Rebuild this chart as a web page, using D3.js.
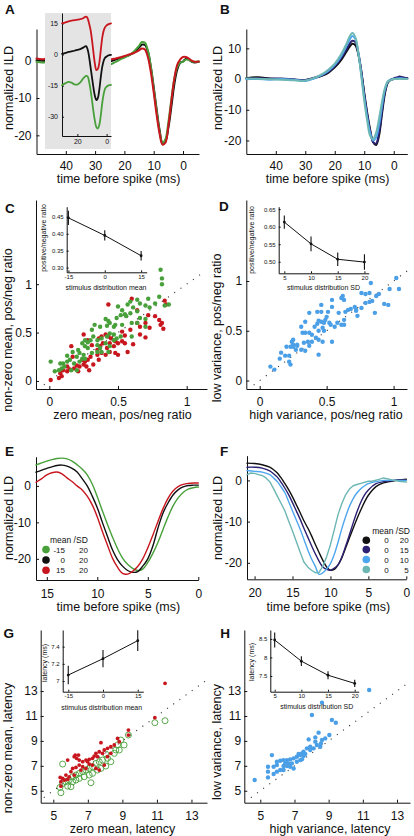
<!DOCTYPE html>
<html><head><meta charset="utf-8">
<script src="https://cdn.jsdelivr.net/npm/d3@7"></script>
<style>body{margin:0;background:#fff}svg{display:block}</style>
</head><body><svg id="c" width="414" height="836"></svg>
<script>
// ================= DATA =================
// Panel A (main STA, time before spike in ms)
const tA = [50,48,46,44,42,40,36,32,28,25,23,21,19,17,15,14,13,12,11,10,9,8,7,6,5,4,3,2,1,0,-1,-2,-3,-4,-5.4];
const aBlack = [0.1,0,-0.2,0,0.2,0.3,0.2,0.4,0.3,-0.2,0.3,0.8,1.3,2.0,3.5,4.3,4.2,2.5,-1.5,-7,-13,-18.5,-22,-21.5,-18,-12.5,-6.5,-2.5,-0.6,-0.2,0.5,0.3,-0.3,-0.5,-0.3];
const aGreen = [-0.3,-0.5,-0.2,0,0.1,0.2,0,0.2,0,-1.0,-0.3,0.5,1.2,2.3,4.0,5.0,4.8,2.8,-1.5,-7.5,-13.5,-19,-22,-21,-16.5,-10.5,-5,-1.8,-0.5,-0.3,0.3,0.2,-0.2,-0.3,-0.2];
const aRed = [0.6,0.4,0.7,0.5,0.4,0.5,0.3,0.5,0.4,0.3,0.6,1.0,1.5,2.0,2.8,3.3,3.0,1.0,-3,-8.5,-14.5,-19.5,-22.5,-22,-17.5,-11,-5,-1.2,0.3,1.0,1.0,0.6,0,-0.3,-0.2];
// Panel A inset (offset traces)
const tI = [30.5,28,26,24,22,20,18,16,15,14,13,12,11,10,9,8,7,6,5,4,3,2,1,0,-1,-2,-3];
const iBlack = [0.3,0.8,1.2,1.5,1.8,2.2,2.6,3.3,3.8,4.0,2.5,-1,-6,-11,-16,-20,-22,-21,-17,-11,-6,-3,-1.5,-1,-0.5,-0.3,-0.2];
const iRed = [15,15.5,16,16.3,16.6,16.8,17,17.5,18,18.2,17.5,15,12,7,1,-4.5,-7.5,-7,-4,2,8,11.5,13.2,14,14.5,14.8,15];
const iGreen = [-14.8,-13.8,-13.2,-13.6,-14.4,-14.5,-13.5,-11.5,-10.8,-10.3,-10.5,-13,-17,-22,-27.5,-32,-35,-35.7,-34,-29.5,-23.5,-19,-16.5,-15.5,-15,-14.8,-14.7];
// Panel B
const tB = [50,46,42,38,34,30,27,24,22,20,18,16,15,14,13,12,11,10,9,8,7,6,5,4,3,2,1,0,-1,-2,-3,-4.6];
const bBlack = [0.3,0.6,0.2,0,-0.2,-0.4,0.3,1.2,2.2,3.8,6,9,10.5,11.5,11,8,2.5,-4.5,-11,-16.5,-20.5,-21.5,-18.5,-11.5,-4.8,-1.2,-0.3,0,0.2,0.5,0.4,0.2];
const bNavy = [0.2,0.3,0.1,0.2,-0.1,-0.3,0.4,1.4,2.5,4.2,6.6,9.8,11.5,12.5,12,8.5,2.5,-5,-11.5,-17,-20.5,-21,-17.5,-10.5,-4.2,-1,-0.2,0.2,0.5,0.8,0.6,0.3];
const bBlue = [0,0,-0.2,0,-0.2,-0.6,0.2,1.5,2.8,4.6,7.2,10.8,12.7,14,13,8.5,1.5,-6,-12.5,-17.5,-20,-19,-15,-9,-3.5,-0.8,-0.2,0,0.2,0.3,0.2,0];
const bTeal = [0.2,0.1,-0.1,-0.2,-0.4,-0.5,0.4,1.8,3.2,5,7.8,11.5,13.8,15,13.5,8.5,1,-7,-13.5,-18.5,-19.5,-17.5,-13,-7.5,-3,-0.8,-0.3,0,0,0.1,0,0];
// Panel C scatter (zero mean vs non-zero mean pos/neg ratio)
const cGreen = [[0.80,0.87],[0.72,0.85],[0.64,0.84],[0.59,0.82],[0.66,0.80],[0.70,0.78],[0.73,0.76],[0.77,0.80],[0.84,0.78],[0.87,0.79],[0.50,0.77],[0.57,0.79],[0.53,0.73],[0.61,0.76],[0.64,0.72],[0.55,0.69],[0.52,0.68],[0.59,0.70],[0.56,0.67],[0.66,0.65],[0.70,0.64],[0.41,0.64],[0.43,0.62],[0.44,0.60],[0.48,0.58],[0.42,0.57],[0.47,0.56],[0.33,0.58],[0.37,0.56],[0.31,0.53],[0.49,0.65],[0.53,0.58],[0.60,0.60],[0.64,0.60],[0.70,0.56],[0.60,0.46],[0.44,0.49],[0.47,0.48],[0.42,0.46],[0.38,0.44],[0.35,0.42],[0.32,0.46],[0.30,0.42],[0.26,0.42],[0.24,0.39],[0.28,0.40],[0.26,0.36],[0.28,0.34],[0.35,0.37],[0.37,0.34],[0.41,0.39],[0.44,0.36],[0.47,0.42],[0.49,0.44],[0.52,0.46],[0.21,0.32],[0.22,0.29],[0.25,0.27],[0.20,0.25],[0.17,0.30],[0.13,0.26],[0.15,0.22],[0.13,0.20],[0.10,0.18],[0.08,0.18],[0.01,0.20],[0.04,0.10],[0.07,0.11],[0.09,0.13],[0.11,0.15],[0.18,0.18],[0.22,0.20],[0.24,0.23],[0.26,0.23],[0.31,0.29],[0.35,0.30],[0.38,0.30],[0.43,0.30],[0.20,0.11],[0.16,0.11],[0.81,1.15],[0.82,1.06],[0.82,1.00]];
const cRed = [[0.60,0.85],[0.84,0.83],[0.85,0.79],[0.43,0.79],[0.64,0.73],[0.72,0.68],[0.77,0.67],[0.80,0.63],[0.82,0.60],[0.83,0.54],[0.81,0.58],[0.70,0.60],[0.73,0.55],[0.66,0.56],[0.64,0.60],[0.53,0.51],[0.59,0.53],[0.55,0.47],[0.66,0.48],[0.70,0.45],[0.61,0.38],[0.57,0.30],[0.55,0.39],[0.53,0.41],[0.50,0.39],[0.48,0.41],[0.45,0.44],[0.43,0.46],[0.41,0.48],[0.38,0.46],[0.36,0.44],[0.25,0.48],[0.28,0.42],[0.31,0.37],[0.35,0.32],[0.37,0.36],[0.39,0.39],[0.44,0.39],[0.47,0.36],[0.42,0.34],[0.38,0.29],[0.36,0.22],[0.30,0.25],[0.28,0.22],[0.26,0.20],[0.24,0.22],[0.25,0.17],[0.22,0.15],[0.21,0.10],[0.18,0.13],[0.16,0.36],[0.17,0.25],[0.13,0.15],[0.10,0.11],[0.08,0.08],[0.09,0.05],[0.07,0.03],[0.01,0.01],[0.13,0.10],[0.15,0.12],[0.20,0.16],[0.27,0.15],[0.29,0.11],[0.32,0.17],[0.50,0.27],[0.48,0.29],[0.44,0.30],[0.41,0.27],[0.35,0.27]];
const cMean = [-15,0,15], cRatio = [0.447,0.395,0.335], cErr = [0.021,0.015,0.014];
// Panel D scatter
const dBlue = [[1.02,1.03],[1.04,0.92],[0.97,0.92],[0.83,0.98],[0.82,0.88],[0.79,0.87],[0.76,0.88],[0.87,0.85],[0.89,0.87],[0.84,0.80],[0.82,0.79],[0.79,0.78],[0.96,0.76],[0.93,0.77],[0.86,0.68],[0.76,0.73],[0.72,0.71],[0.71,0.74],[0.68,0.72],[0.66,0.71],[0.64,0.69],[0.73,0.65],[0.72,0.70],[0.62,0.85],[0.63,0.81],[0.61,0.83],[0.54,0.81],[0.54,0.74],[0.46,0.76],[0.43,0.69],[0.46,0.69],[0.51,0.69],[0.50,0.64],[0.49,0.61],[0.52,0.58],[0.53,0.56],[0.56,0.54],[0.58,0.58],[0.59,0.68],[0.63,0.61],[0.63,0.56],[0.61,0.56],[0.48,0.58],[0.46,0.59],[0.44,0.60],[0.43,0.57],[0.47,0.53],[0.48,0.50],[0.44,0.50],[0.41,0.54],[0.37,0.68],[0.34,0.59],[0.31,0.54],[0.32,0.48],[0.34,0.48],[0.37,0.48],[0.39,0.46],[0.42,0.43],[0.44,0.41],[0.47,0.39],[0.39,0.39],[0.36,0.39],[0.33,0.38],[0.37,0.35],[0.34,0.30],[0.31,0.31],[0.28,0.35],[0.25,0.41],[0.24,0.39],[0.25,0.36],[0.28,0.36],[0.27,0.31],[0.25,0.34],[0.23,0.34],[0.20,0.34],[0.16,0.28],[0.15,0.22],[0.19,0.25],[0.22,0.25],[0.22,0.19],[0.23,0.16],[0.08,0.14],[0.11,0.11],[0.44,0.26],[0.54,0.39]];
const dSD = [5,10,15,20], dRatio = [0.613,0.551,0.507,0.499], dErr = [0.019,0.021,0.019,0.022];
// Panel E (mean -15 / 0 / +15, SD 20)
const tE = [16.07,15.5,15,14.5,14,13.5,13,12.5,12,11.5,11,10.5,10,9.5,9,8.5,8,7.5,7,6.5,6,5.5,5,4.5,4,3.5,3,2.5,2,1.5,1,0.5,0];
const eGreen = [5.75,6.3,6.8,7.2,7.5,7.6,7.4,6.8,5.8,4.6,3.0,0.5,-3,-6.8,-10.5,-14,-17.2,-19.8,-21.5,-22.6,-23.2,-22.8,-21,-18.5,-15.5,-12,-8.5,-5.5,-3.3,-1.8,-0.9,-0.5,-0.3];
const eBlack = [3.75,4.3,4.8,5.2,5.6,5.7,5.4,4.8,3.8,2.0,0,-2.8,-6,-10,-13.8,-17.5,-20.2,-22,-23.2,-23.7,-23.5,-22,-20,-16.5,-11.6,-7.5,-4.7,-2.5,-1.1,-0.3,0.1,0.2,0.2];
const eRed = [1.0,2.0,3.0,3.6,3.8,3.3,2.2,1.2,0,-1.1,-2.8,-5.2,-8.5,-12.5,-16.2,-19.8,-22.3,-24,-24.2,-23.4,-22.1,-20,-17,-13.5,-9.8,-6.3,-3.4,-1.4,-0.2,0.4,0.7,0.8,0.8];
const eLegMean = ["-15","0","15"], eLegSD = ["20","20","20"];
// Panel F (mean 0, SD 20 / 15 / 10 / 5)
const tF = [21,20,19,18,17.5,17,16.5,16,15.5,15,14.5,14,13.5,13,12.5,12,11.5,11,10.5,10,9.5,9,8.5,8,7.5,7,6.5,6,5.5,5,4,3,2,1,0];
const fBlack = [4.2,4.1,3.8,3.2,2.6,1.8,0.6,-0.8,-2.3,-4.0,-5.9,-7.8,-9.8,-11.5,-13.4,-15.5,-17.5,-19.4,-21,-21.8,-21.6,-20.5,-18.8,-16.4,-14,-11.6,-9.3,-7.2,-5.2,-3.6,-1.5,-0.6,-0.2,0.1,0.3];
const fNavy = [3.2,3.2,3.0,2.3,1.6,0.8,-0.5,-1.9,-3.5,-5.4,-7.4,-9.4,-11.6,-13.7,-15.8,-17.8,-19.6,-21,-21.6,-21.8,-21.3,-20.5,-18.6,-16,-13.2,-10.3,-7.6,-5.3,-3.5,-2.3,-0.8,-0.3,-0.1,0.1,0.1];
const fBlue = [2.4,2.2,2.0,1.4,0.6,-0.3,-1.6,-3.0,-5.2,-7.4,-9.6,-11.8,-14.3,-16.8,-19,-20.8,-22.8,-22.4,-21.5,-20.2,-18,-15,-11.7,-8.8,-6.3,-4.4,-3.0,-2.0,-1.3,-0.8,-0.3,0,0,0,0];
const tFt = [21,20.5,20,19.5,19,18.5,18,17.5,17,16.5,16,15.5,15,14.5,14,13.5,13,12.5,12,11.5,11,10.5,10,9.5,9,8.5,8,7.5,7,6.5,6,5,4.5,3.5,3,2,1,0];
const fTeal = [1.4,1.8,1.7,1.4,1.2,0.6,-0.3,-2.0,-3.8,-5.6,-7.4,-9.9,-12.3,-14.8,-17.4,-19.8,-21,-21.8,-22.4,-22.3,-20.8,-18.5,-15.6,-12,-8.3,-5.6,-3.5,-2.1,-1.3,-1.0,-0.7,-0.2,-0.2,0.3,0.6,0.2,-0.2,-0.4];
const fLegMean = ["0","0","0","0"], fLegSD = ["20","15","10","5"];
// Panel G scatter (latency)
const gRed = [[11.47,13.62],[10.88,10.86],[9.35,9.87],[9.35,9.47],[8.72,9.20],[8.82,8.94],[8.53,8.67],[8.33,8.53],[8.14,8.40],[7.95,8.27],[7.85,8.00],[7.66,8.13],[7.76,8.86],[7.47,8.00],[7.37,7.78],[7.56,7.73],[7.27,7.60],[7.08,7.52],[6.98,7.33],[6.89,7.46],[6.70,7.33],[6.50,7.46],[6.35,7.60],[6.21,7.73],[6.46,7.86],[6.27,7.86],[5.83,7.46],[6.50,7.06],[6.70,6.93],[6.31,6.87],[6.12,6.79],[6.02,6.53],[5.73,6.26],[5.54,5.99],[5.44,5.72],[5.40,6.07],[5.64,5.86],[5.83,5.91],[7.08,7.14],[7.27,7.06],[7.47,6.79],[7.66,6.66],[7.95,7.06],[8.14,7.73],[8.33,8.00],[6.89,6.79],[6.60,6.66],[6.21,6.26],[5.92,6.12],[5.44,5.37]];
const gGreen = [[11.47,10.62],[10.88,10.46],[9.35,9.47],[8.91,9.07],[8.72,8.67],[8.62,8.27],[8.53,8.00],[8.14,7.60],[8.04,7.94],[7.85,7.46],[7.66,7.33],[7.47,7.20],[7.27,6.93],[7.08,6.79],[6.89,6.66],[6.70,6.53],[6.50,6.39],[6.31,6.26],[6.12,6.12],[5.92,5.86],[5.73,5.72],[5.54,5.59],[5.39,5.27],[5.44,4.84],[5.54,7.14],[7.18,5.64],[6.50,5.99],[6.79,6.12],[7.08,6.26],[7.27,6.39],[7.56,6.66],[7.76,6.79],[8.04,6.98],[8.33,7.33],[6.02,5.32],[5.83,5.37],[6.12,5.72],[6.31,5.86],[8.82,8.27],[9.10,8.67]];
const gMean = [-15,0,15], gLat = [7.07,7.26,7.47], gErr = [0.107,0.10,0.12];
// Panel H scatter
const hBlue = [[11.37,13.09],[8.61,12.07],[8.02,11.08],[9.19,10.68],[9.42,10.46],[9.04,9.47],[8.41,9.66],[8.22,9.28],[7.83,9.12],[8.61,9.07],[8.80,9.20],[8.55,8.80],[8.22,8.94],[7.92,8.53],[8.12,8.40],[8.31,8.67],[8.51,8.53],[7.73,8.40],[7.92,8.27],[7.53,8.13],[7.44,8.00],[7.63,7.95],[7.34,7.86],[7.14,7.73],[7.24,7.95],[6.95,7.60],[6.75,7.52],[6.56,7.46],[6.36,7.46],[6.17,7.41],[5.97,7.33],[5.68,7.86],[6.46,7.20],[6.66,7.20],[6.85,7.20],[7.14,7.33],[7.34,7.46],[6.36,6.98],[6.56,6.98],[6.75,6.93],[5.97,7.06],[5.78,6.93],[6.17,6.66],[6.36,6.66],[5.97,6.53],[5.78,6.34],[5.45,6.93],[5.45,6.53],[5.45,6.07],[4.67,5.86],[6.95,6.79],[7.44,7.52],[7.53,7.79]];
const hSD = [5,10,15,20], hLat = [8.47,7.90,7.52,7.30], hErr = [0.2,0.13,0.11,0.1];

// ================= STYLE =================
const LS = '"Liberation Sans", Arial, Helvetica, sans-serif';
const GREEN = "#48a03a", RED = "#c8161e", BLUE = "#4b9fe6", NAVY = "#2b2072", SKY = "#4ea6ee", TEAL = "#6cb6b3";
const svg = d3.select("#c");

function drawAxes(x, y, o) {
  const fs = o.fs || 12, tk = o.tk == null ? 3 : o.tk;
  const gx = svg.append("g").attr("transform", `translate(0,${y.range()[0]})`)
    .call(d3.axisBottom(x).tickValues(o.xt).tickFormat(o.xf || (d => String(d))).tickSizeInner(-tk).tickSizeOuter(0).tickPadding(o.xpad));
  const gy = svg.append("g").attr("transform", `translate(${x.range()[0]},0)`)
    .call(d3.axisLeft(y).tickValues(o.yt).tickFormat(o.yf || (d => String(d))).tickSizeInner(-tk).tickSizeOuter(0).tickPadding(o.ypad));
  for (const a of [gx, gy]) {
    a.attr("font-family", LS).attr("font-size", fs);
    a.select(".domain").attr("stroke", "#111").attr("stroke-width", o.sw || 1);
    a.selectAll(".tick line").attr("stroke", "#111");
    a.selectAll(".tick text").attr("fill", "#111");
  }
}
function txt(x, y, s, fs, anchor, weight) {
  return svg.append("text").attr("x", x).attr("y", y).text(s).attr("font-family", LS)
    .attr("font-size", fs).attr("text-anchor", anchor || "middle").attr("font-weight", weight || null).attr("fill", "#111");
}
function vtxt(x, y, s, fs) {
  return svg.append("text").attr("transform", `translate(${x},${y}) rotate(-90)`).attr("text-anchor", "middle")
    .attr("font-family", LS).attr("font-size", fs).attr("fill", "#111").text(s);
}
function curve(x, y, ts, vs, color, w, cv) {
  svg.append("path").datum(d3.zip(ts, vs)).attr("fill", "none").attr("stroke", color).attr("stroke-width", w)
    .attr("stroke-linejoin", "round").attr("stroke-linecap", "round")
    .attr("d", d3.line().x(d => x(d[0])).y(d => y(d[1])).curve(cv || d3.curveCatmullRom));
}
function diag(x, y, a, b) {
  svg.append("line").attr("x1", x(a)).attr("y1", y(a)).attr("x2", x(b)).attr("y2", y(b))
    .attr("stroke", "#333").attr("stroke-width", 1.1).attr("stroke-dasharray", "1.1,6.5");
}
function dots(x, y, data, color, r) {
  svg.append("g").selectAll("circle").data(data).join("circle")
    .attr("cx", d => x(d[0])).attr("cy", d => y(d[1])).attr("r", r).attr("fill", color);
}
function rings(x, y, data, color, r) {
  svg.append("g").selectAll("circle").data(data).join("circle")
    .attr("cx", d => x(d[0])).attr("cy", d => y(d[1])).attr("r", r).attr("fill", "none").attr("stroke", color).attr("stroke-width", 0.9);
}
function inset(x, y, xs, ms, es) {
  svg.append("path").datum(d3.zip(xs, ms)).attr("fill", "none").attr("stroke", "#111").attr("stroke-width", 1)
    .attr("d", d3.line().x(d => x(d[0])).y(d => y(d[1])));
  xs.forEach((v, i) => {
    svg.append("line").attr("x1", x(v)).attr("x2", x(v)).attr("y1", y(ms[i] - es[i])).attr("y2", y(ms[i] + es[i]))
      .attr("stroke", "#111").attr("stroke-width", 1.1);
    svg.append("circle").attr("cx", x(v)).attr("cy", y(ms[i])).attr("r", 1.4).attr("fill", "#111");
  });
}
function legend(cx, cys, colors, c1x, c1, c2x, c2, fs) {
  cys.forEach((cy, i) => {
    svg.append("circle").attr("cx", cx).attr("cy", cy).attr("r", 3.8).attr("fill", colors[i]);
    txt(c1x, cy + 3, c1[i], fs, "end");
    txt(c2x, cy + 3, c2[i], fs, "end");
  });
}

// ================= PANEL A =================
{
  const x = d3.scaleLinear().domain([50, -5.46]).range([36.5, 199]);
  const y = d3.scaleLinear().domain([-25, 8.5]).range([154, 29]);
  drawAxes(x, y, {xt: [40, 30, 20, 10, 0], yt: [0, -10, -20], xpad: 7, ypad: 5});
  curve(x, y, tA, aBlack, "#111", 2);
  curve(x, y, tA, aGreen, GREEN, 2);
  curve(x, y, tA, aRed, RED, 2);
  svg.append("rect").attr("x", 45).attr("y", 13).attr("width", 66).attr("height", 136).attr("fill", "#e4e4e4");
  const xi = d3.scaleLinear().domain([30.5, -3]).range([62, 111]);
  const yi = d3.scaleLinear().domain([-39.3, 20]).range([136, 13]);
  drawAxes(xi, yi, {xt: [20, 0], yt: [15, 0, -15, -30], xpad: 3, ypad: 4, fs: 7, tk: 2});
  curve(xi, yi, tI, iRed, RED, 1.8);
  curve(xi, yi, tI, iBlack, "#111", 1.8);
  curve(xi, yi, tI, iGreen, GREEN, 1.8);
  vtxt(12.5, 88, "normalized ILD", 12.5);
  txt(118.5, 183, "time before spike (ms)", 12.5);
  txt(5, 14, "A", 13.5, "start", "bold");
}
// ================= PANEL B =================
{
  const x = d3.scaleLinear().domain([50, -4.6]).range([246.3, 407.3]);
  const y = d3.scaleLinear().domain([-24.4, 16.3]).range([154, 29]);
  drawAxes(x, y, {xt: [40, 30, 20, 10, 0], yt: [10, 0, -10, -20], xpad: 7, ypad: 5});
  curve(x, y, tB, bBlack, "#111", 2);
  curve(x, y, tB, bNavy, NAVY, 2);
  curve(x, y, tB, bBlue, SKY, 2);
  curve(x, y, tB, bTeal, TEAL, 2);
  vtxt(222, 88, "normalized ILD", 12.5);
  txt(327.5, 183, "time before spike (ms)", 12.5);
  txt(220, 14, "B", 13.5, "start", "bold");
}
// ================= PANEL C =================
{
  const x = d3.scaleLinear().domain([-0.097, 1.148]).range([36, 207]);
  const y = d3.scaleLinear().domain([-0.083, 1.87]).range([389, 200]);
  drawAxes(x, y, {xt: [0, 0.5, 1], yt: [0, 0.5, 1], xpad: 8.5, ypad: 4});
  diag(x, y, -0.04, 1.12);
  dots(x, y, cRed, RED, 2.2);
  dots(x, y, cGreen, GREEN, 2.2);
  const xi = d3.scaleLinear().domain([-15.7, 17.3]).range([66.7, 146.7]);
  const yi = d3.scaleLinear().domain([0.286, 0.48]).range([272.3, 206.7]);
  drawAxes(xi, yi, {xt: [-15, 0, 15], yt: [0.30, 0.35, 0.40, 0.45], yf: d3.format(".2f"), xpad: 2, ypad: 3, fs: 6, tk: 2});
  inset(xi, yi, cMean, cRatio, cErr);
  vtxt(45.5, 238, "positive/negative ratio", 7);
  txt(106, 290, "stimulus distribution mean", 7);
  vtxt(11.5, 330, "non-zero mean, pos/neg ratio", 12.5);
  txt(122.5, 419, "zero mean, pos/neg ratio", 12.5);
  txt(5, 213, "C", 13.5, "start", "bold");
}
// ================= PANEL D =================
{
  const x = d3.scaleLinear().domain([-0.1, 1.1]).range([246.3, 407]);
  const y = d3.scaleLinear().domain([-0.085, 1.814]).range([389, 200]);
  drawAxes(x, y, {xt: [0, 0.5, 1], yt: [0, 0.5, 1], xpad: 8.5, ypad: 4});
  diag(x, y, -0.045, 1.12);
  dots(x, y, dBlue, BLUE, 2.2);
  const xi = d3.scaleLinear().domain([3.95, 20.8]).range([278.7, 368.7]);
  const yi = d3.scaleLinear().domain([0.467, 0.657]).range([273.3, 206.7]);
  drawAxes(xi, yi, {xt: [5, 10, 15, 20], yt: [0.50, 0.55, 0.60, 0.65], yf: d3.format(".2f"), xpad: 2, ypad: 3, fs: 6, tk: 2});
  inset(xi, yi, dSD, dRatio, dErr);
  vtxt(253.5, 240, "positive/negative ratio", 7);
  txt(323.5, 290, "stimulus distribution SD", 7);
  vtxt(220.5, 328, "low variance, pos/neg ratio", 12.5);
  txt(326, 419, "high variance, pos/neg ratio", 12.5);
  txt(219, 211, "D", 13.5, "start", "bold");
}
// ================= PANEL E =================
{
  const x = d3.scaleLinear().domain([16.07, 0]).range([36, 198.3]);
  const y = d3.scaleLinear().domain([-25.8, 8]).range([580, 456.7]);
  drawAxes(x, y, {xt: [15, 10, 5, 0], yt: [0, -10, -20], xpad: 9.5, ypad: 5});
  curve(x, y, tE, eGreen, GREEN, 1.4);
  curve(x, y, tE, eBlack, "#111", 1.4);
  curve(x, y, tE, eRed, RED, 1.4);
  txt(50, 543, "mean /SD", 8.5, "start");
  legend(46, [549.6, 560, 570.3], [GREEN, "#111", RED], 65, eLegMean, 88, eLegSD, 8);
  vtxt(12.5, 518, "normalized ILD", 12.5);
  txt(118.3, 611, "time before spike (ms)", 12.5);
  txt(5, 455.5, "E", 13.5, "start", "bold");
}
// ================= PANEL F =================
{
  const x = d3.scaleLinear().domain([21, 0]).range([247, 406.3]);
  const y = d3.scaleLinear().domain([-24, 6]).range([579.3, 455.7]);
  drawAxes(x, y, {xt: [20, 15, 10, 5, 0], yt: [0, -10, -20], xpad: 9, ypad: 5});
  curve(x, y, tF, fBlack, "#111", 1.4);
  curve(x, y, tF, fNavy, NAVY, 1.4);
  curve(x, y, tF, fBlue, SKY, 1.4);
  curve(x, y, tFt, fTeal, TEAL, 1.4, d3.curveLinear);
  txt(410, 533.5, "mean /SD", 8.5, "end");
  legend(366.3, [540.3, 549.6, 559.5, 569.5], ["#111", NAVY, SKY, TEAL], 388.7, fLegMean, 408.7, fLegSD, 8);
  vtxt(222, 518, "normalized ILD", 12.5);
  txt(328.3, 611, "time before spike (ms)", 12.5);
  txt(220, 455.5, "F", 13.5, "start", "bold");
}
// ================= PANEL G =================
{
  const x = d3.scaleLinear().domain([4.27, 13.9]).range([40.7, 207]);
  const y = d3.scaleLinear().domain([4.04, 17.9]).range([802.7, 630]);
  drawAxes(x, y, {xt: [5, 7, 9, 11, 13], yt: [5, 7, 9, 11, 13], xpad: 8.5, ypad: 3});
  diag(x, y, 4.45, 13.9);
  rings(x, y, gGreen, GREEN, 3);
  dots(x, y, gRed, RED, 1.9);
  const xi = d3.scaleLinear().domain([-17.4, 17.4]).range([62.7, 143.3]);
  const yi = d3.scaleLinear().domain([6.876, 7.594]).range([691.7, 630]);
  drawAxes(xi, yi, {xt: [-15, 0, 15], yt: [7, 7.2, 7.4], xpad: 2, ypad: 3, fs: 6, tk: 2});
  inset(xi, yi, gMean, gLat, gErr);
  vtxt(47, 663, "latency (ms)", 7);
  txt(101.7, 709.5, "stimulus distribution mean", 7);
  vtxt(11.5, 748, "non-zero mean, latency", 12.5);
  txt(122.5, 832.5, "zero mean, latency", 12.5);
  txt(3.5, 638, "G", 13.5, "start", "bold");
}
// ================= PANEL H =================
{
  const x = d3.scaleLinear().domain([4.064, 13.76]).range([244.3, 410]);
  const y = d3.scaleLinear().domain([4.04, 17.9]).range([802.7, 630]);
  drawAxes(x, y, {xt: [5, 7, 9, 11, 13], yt: [5, 7, 9, 11, 13], xpad: 8.5, ypad: 3});
  diag(x, y, 4.45, 13.7);
  dots(x, y, hBlue, BLUE, 2.2);
  const xi = d3.scaleLinear().domain([4.18, 20.75]).range([270.3, 358.7]);
  const yi = d3.scaleLinear().domain([7.076, 8.74]).range([691.7, 630]);
  drawAxes(xi, yi, {xt: [5, 10, 15, 20], yt: [7.5, 8, 8.5], xpad: 2, ypad: 3, fs: 6, tk: 2});
  inset(xi, yi, hSD, hLat, hErr);
  vtxt(254, 662, "latency (ms)", 7);
  txt(316.7, 708.5, "stimulus distribution SD", 7);
  vtxt(221, 742, "low variance, latency", 12.5);
  txt(330, 832.5, "high variance, latency", 12.5);
  txt(220.3, 638, "H", 13.5, "start", "bold");
}
</script></body></html>
